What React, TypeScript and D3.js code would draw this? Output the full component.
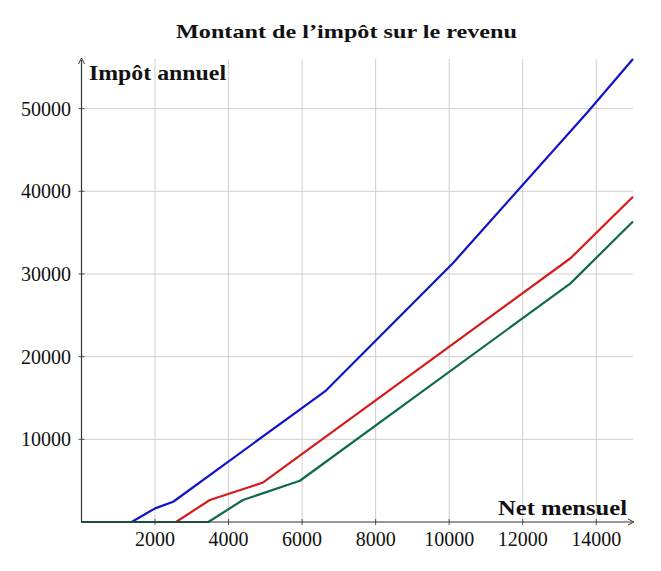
import React from "react";
import * as d3 from "d3";

const xTicks = [2000, 4000, 6000, 8000, 10000, 12000, 14000];
const yTicks = [10000, 20000, 30000, 40000, 50000];

const blueNet = [0, 1365, 2000, 2495, 6650, 10100, 13750, 15000];
const blueTax = [0, 0, 1650, 2450, 15900, 31300, 49500, 56000];
const redNet = [0, 2570, 3490, 4940, 13300, 15000];
const redTax = [0, 0, 2660, 4780, 31900, 39350];
const greenNet = [0, 3450, 4390, 5940, 13300, 15000];
const greenTax = [0, 0, 2660, 4990, 28860, 36350];

const seriesColors = ["#1212c8", "#d41c1c", "#0f6b48"];

const title = "Montant de l\u2019impôt sur le revenu";
const yLabel = "Impôt annuel";
const xLabel = "Net mensuel";

export default function App() {
  const W = 661, H = 571;
  const x = d3.scaleLinear().domain([0, 15000]).range([81.5, 633]);
  const y = d3.scaleLinear().domain([0, 56000]).range([522, 59]);
  const line = d3.line<[number, number]>().x(d => x(d[0])).y(d => y(d[1]));
  const series = [
    blueNet.map((v, i) => [v, blueTax[i]] as [number, number]),
    redNet.map((v, i) => [v, redTax[i]] as [number, number]),
    greenNet.map((v, i) => [v, greenTax[i]] as [number, number]),
  ];
  const font = "'Liberation Serif', 'DejaVu Serif', serif";
  const x0 = x(0), y0 = y(0);
  return (
    <svg width={W} height={H} style={{ position: "absolute", left: 0, top: 0, background: "#fff" }} fontFamily={font}>
      <rect width={W} height={H} fill="#fff" />
      {xTicks.map(t => (
        <line key={"gx" + t} x1={x(t)} x2={x(t)} y1={y(56000)} y2={y0} stroke="#cfcfcf" strokeWidth={1} />
      ))}
      {yTicks.map(t => (
        <line key={"gy" + t} x1={x0} x2={x(15000)} y1={y(t)} y2={y(t)} stroke="#cfcfcf" strokeWidth={1} />
      ))}
      {xTicks.map(t => (
        <g key={"tx" + t}>
          <line x1={x(t)} x2={x(t)} y1={y0 - 3} y2={y0 + 3} stroke="#555" strokeWidth={1} />
          <text x={x(t)} y={546} fontSize={20} textAnchor="middle" fill="#111">{t}</text>
        </g>
      ))}
      {yTicks.map(t => (
        <g key={"ty" + t}>
          <line x1={x0 - 3} x2={x0 + 3} y1={y(t)} y2={y(t)} stroke="#555" strokeWidth={1} />
          <text x={71} y={y(t) + 7} fontSize={20} textAnchor="end" fill="#111">{t}</text>
        </g>
      ))}
      {series.map((s, i) => (
        <path key={"s" + i} d={line(s) || ""} fill="none" stroke={seriesColors[i]} strokeWidth={2.2} strokeLinejoin="round" />
      ))}
      <line x1={x0} x2={x0} y1={y0} y2={y(56000) + 1} stroke="#333" strokeWidth={1.2} />
      <line x1={x0} x2={x(15000) - 1} y1={y0} y2={y0} stroke="#333" strokeWidth={1.2} />
      <path d={`M${x0 - 3},${y(56000) + 5} L${x0},${y(56000) - 1} L${x0 + 3},${y(56000) + 5}`} fill="none" stroke="#333" strokeWidth={1} />
      <path d={`M${x(15000) - 5},${y0 - 3} L${x(15000) + 1},${y0} L${x(15000) - 5},${y0 + 3}`} fill="none" stroke="#333" strokeWidth={1} />
      <text x={89} y={80} fontSize={20} fontWeight="bold" textLength={137} lengthAdjust="spacingAndGlyphs" fill="#111">{yLabel}</text>
      <text x={498} y={515} fontSize={20} fontWeight="bold" textLength={129} lengthAdjust="spacingAndGlyphs" fill="#111">{xLabel}</text>
      <text x={176} y={38} fontSize={19} fontWeight="bold" textLength={341} lengthAdjust="spacingAndGlyphs" fill="#111">{title}</text>
    </svg>
  );
}
